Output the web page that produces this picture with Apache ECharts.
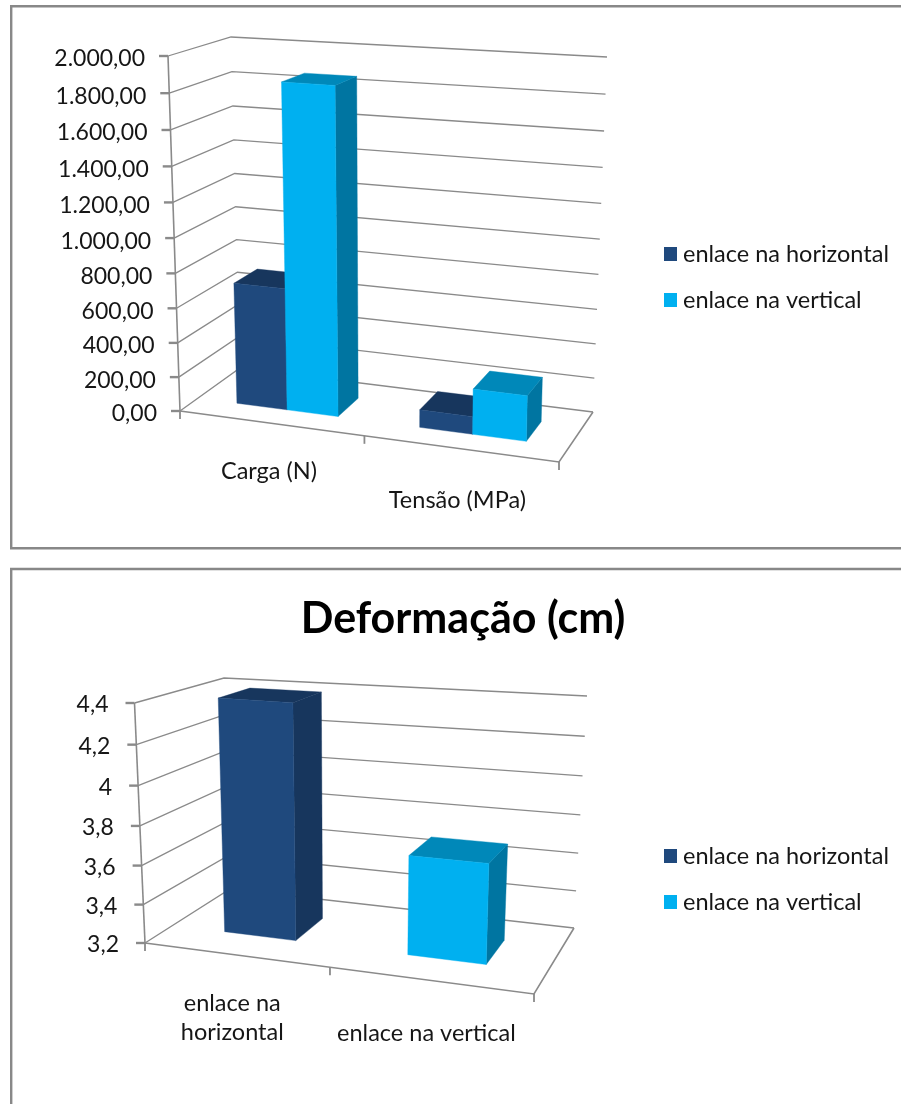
<!DOCTYPE html>
<html>
<head>
<meta charset="utf-8">
<style>html,body{margin:0;padding:0;background:#fff}#chart{width:901px;height:1104px}</style>
<script src="https://cdn.jsdelivr.net/npm/echarts@6/dist/echarts.min.js"></script>
</head>
<body>
<div id="chart"></div>
<script>
// Ensaio de enlace: carga, tensão e deformação
const seriesNames = ['enlace na horizontal', 'enlace na vertical'];

const loadCategories = ['Carga (N)', 'Tensão (MPa)'];
const loadHorizontal = [708, 101];
const loadVertical = [1860, 258];
const loadTicks = [0, 200, 400, 600, 800, 1000, 1200, 1400, 1600, 1800, 2000];
const loadTickLabels = ['0,00', '200,00', '400,00', '600,00', '800,00', '1.000,00', '1.200,00', '1.400,00', '1.600,00', '1.800,00', '2.000,00'];

const strainCategories = ['enlace na\nhorizontal', 'enlace na vertical'];
const strainHorizontal = [4.4, null];
const strainVertical = [null, 3.7];
const strainTicks = [3.2, 3.4, 3.6, 3.8, 4, 4.2, 4.4];
const strainTickLabels = ['3,2', '3,4', '3,6', '3,8', '4', '4,2', '4,4'];

const FONT = 'Lato, "Open Sans", sans-serif';
const TEXT = '#161616';
const LINE = '#8a8a8a';
const PALETTE = [
  { front: '#1f497d', top: '#17365d', side: '#17365d' },
  { front: '#00b0f0', top: '#0088b9', side: '#0075a1' }
];

// Oblique view of the plot box: screen position of its eight corners,
// plus the foreshortening along the category and value directions.
const loadView = {
  corners: {
    flb: [180, 411], frb: [559, 462], blb: [240, 368], brb: [593, 412],
    flt: [168, 56], frt: [567, 81], blt: [231, 37], brt: [607, 57]
  },
  uBias: 1.055, wBias: 1.053, depth: [0.3, 0.7], labelDx: -23, labelDy: 3,
  catDy: [48, 52], catDx: [-2, -3], slot: 0.14, offsets: [-0.5, 0.5]
};
const strainView = {
  corners: {
    flb: [145, 943], frb: [534, 994], blb: [230, 889], brb: [574, 928],
    flt: [134.5, 703], frt: [542, 730], blt: [224, 678], brt: [587, 696]
  },
  uBias: 1.103, wBias: 1.05, depth: [0.33, 0.71], labelDx: -26, labelDy: 2,
  catDy: [63, 53], catDx: [-3, -3], slot: 0.2, offsets: [0, 0]
};

const bias = (t, r) => t / (t + r * (1 - t));
const lerp = (a, b, t) => [a[0] + (b[0] - a[0]) * t, a[1] + (b[1] - a[1]) * t];

function project(view, u, v, w) {
  const c = view.corners;
  const tu = bias(u, view.uBias);
  const tw = bias(w, view.wBias);
  const bottom = lerp(lerp(c.flb, c.frb, tu), lerp(c.blb, c.brb, tu), v);
  const top = lerp(lerp(c.flt, c.frt, tu), lerp(c.blt, c.brt, tu), v);
  return lerp(bottom, top, tw);
}

// Normalised plot position of a data pair, taken from the cartesian scales.
function unit(params, api, category, value) {
  const rect = params.coordSys;
  const p = api.coord([category, value]);
  return [(p[0] - rect.x) / rect.width, (rect.y + rect.height - p[1]) / rect.height];
}

const lineStyle = { stroke: LINE, lineWidth: 1.3, fill: null };

function wallsRenderer(view, tickLabels) {
  return function (params, api) {
    const value = api.value(0);
    const w = unit(params, api, 0, value)[1];
    const fl = project(view, 0, 0, w);
    const bl = project(view, 0, 1, w);
    const br = project(view, 1, 1, w);
    const children = [
      { type: 'polyline', shape: { points: [fl, bl, br] }, style: lineStyle },
      { type: 'line', shape: { x1: fl[0] - 9, y1: fl[1], x2: fl[0], y2: fl[1] }, style: { stroke: LINE, lineWidth: 2.4 } },
      {
        type: 'text',
        style: {
          text: tickLabels[params.dataIndex],
          x: fl[0] + view.labelDx, y: fl[1] + view.labelDy,
          textAlign: 'right', textVerticalAlign: 'middle',
          font: '23px ' + FONT, fill: TEXT
        }
      }
    ];
    return { type: 'group', children };
  };
}

function frameRenderer(view) {
  return function (params, api) {
    const top = project(view, 0, 0, 1);
    const base = project(view, 0, 0, 0);
    const fr = project(view, 1, 0, 0);
    const br = project(view, 1, 1, 0);
    const children = [
      { type: 'line', shape: { x1: top[0], y1: top[1], x2: base[0], y2: base[1] }, style: { stroke: LINE, lineWidth: 1.6 } },
      { type: 'polyline', shape: { points: [base, fr, br] }, style: { stroke: LINE, lineWidth: 1.6, fill: null } }
    ];
    [0, 0.5, 1].forEach(u => {
      const p = project(view, u, 0, 0);
      children.push({ type: 'line', shape: { x1: p[0], y1: p[1], x2: p[0], y2: p[1] + 8 }, style: { stroke: LINE, lineWidth: 1.8 } });
    });
    return { type: 'group', children };
  };
}

function categoryRenderer(view, labels) {
  return function (params, api) {
    const i = params.dataIndex;
    const [u] = unit(params, api, i, 0);
    const p = project(view, u, 0, 0);
    return {
      type: 'text',
      style: {
        text: labels[i], x: p[0] + view.catDx[i], y: p[1] + view.catDy[i],
        textAlign: 'center', textVerticalAlign: 'middle',
        font: '23.5px ' + FONT, fill: TEXT, lineHeight: 29
      }
    };
  };
}

function barRenderer(view, seriesIndex) {
  const colors = PALETTE[seriesIndex];
  return function (params, api) {
    if (api.value(1) == null || isNaN(api.value(1))) return;
    const cat = api.value(0);
    const [uc, w] = unit(params, api, cat, api.value(1));
    const mid = uc + view.offsets[seriesIndex] * view.slot;
    const u0 = mid - view.slot / 2;
    const u1 = mid + view.slot / 2;
    const [vf, vb] = view.depth;
    const P = (u, v, z) => project(view, u, v, z);
    const face = (points, fill) => ({
      type: 'polygon', shape: { points },
      style: { fill, stroke: fill, lineWidth: 0.4 }
    });
    return {
      type: 'group',
      children: [
        face([P(u1, vf, 0), P(u1, vb, 0), P(u1, vb, w), P(u1, vf, w)], colors.side),
        face([P(u0, vf, w), P(u1, vf, w), P(u1, vb, w), P(u0, vb, w)], colors.top),
        face([P(u0, vf, 0), P(u1, vf, 0), P(u1, vf, w), P(u0, vf, w)], colors.front)
      ]
    };
  };
}

function panel(view, index, categories, ticks, tickLabels, horizontal, vertical) {
  const axisSeries = (renderItem, data, z) => ({
    type: 'custom', coordinateSystem: 'cartesian2d', xAxisIndex: index, yAxisIndex: index,
    data, renderItem, silent: true, z, clip: false, encode: { x: 1, y: 0 }
  });
  const barData = values => values.map((v, i) => [i, v]);
  const barSeries = (name, values, s) => ({
    type: 'custom', name, coordinateSystem: 'cartesian2d', xAxisIndex: index, yAxisIndex: index,
    data: barData(values), renderItem: barRenderer(view, s), z: 3 + s, clip: false,
    itemStyle: { color: PALETTE[s].front }, encode: { x: 0, y: 1 }
  });
  return [
    axisSeries(wallsRenderer(view, tickLabels), ticks.map(t => [t, 0]), 1),
    axisSeries(frameRenderer(view), [[ticks[0], 0]], 2),
    barSeries(seriesNames[0], horizontal, 0),
    barSeries(seriesNames[1], vertical, 1),
    {
      type: 'custom', coordinateSystem: 'cartesian2d', xAxisIndex: index, yAxisIndex: index,
      data: categories.map((c, i) => [i, ticks[0]]), renderItem: categoryRenderer(view, categories),
      silent: true, z: 5, clip: false, encode: { x: 0, y: 1 }
    }
  ];
}

const legendBase = {
  orient: 'vertical', left: 664, padding: 0, icon: 'rect', itemWidth: 13, itemHeight: 14, itemGap: 22,
  data: seriesNames, selectedMode: false,
  textStyle: { fontFamily: FONT, fontSize: 23.5, color: TEXT, padding: [0, 0, 0, 1] }
};

const frameStyle = { fill: 'none', stroke: '#888888', lineWidth: 2.4 };

const chart = echarts.init(document.getElementById('chart'));
chart.setOption({
  animation: false,
  backgroundColor: '#ffffff',
  title: {
    text: 'Deformação (cm)', left: 458, top: 593, textAlign: 'center',
    textStyle: { fontFamily: FONT, fontSize: 43, fontWeight: 'bold', color: '#000000' }
  },
  legend: [
    Object.assign({}, legendBase, { top: 242 }),
    Object.assign({}, legendBase, { top: 844 })
  ],
  grid: [
    { left: 180, top: 56, width: 379, height: 355 },
    { left: 145, top: 703, width: 389, height: 240 }
  ],
  xAxis: [
    { type: 'category', gridIndex: 0, data: loadCategories, show: false },
    { type: 'category', gridIndex: 1, data: strainCategories, show: false }
  ],
  yAxis: [
    { type: 'value', gridIndex: 0, min: 0, max: 2000, interval: 200, show: false },
    { type: 'value', gridIndex: 1, min: 3.2, max: 4.4, show: false }
  ],
  graphic: [
    { type: 'rect', shape: { x: 11.2, y: 6.2, width: 1000, height: 542 }, style: frameStyle, silent: true },
    { type: 'rect', shape: { x: 11.2, y: 569, width: 1000, height: 800 }, style: frameStyle, silent: true }
  ],
  series: [
    ...panel(loadView, 0, loadCategories, loadTicks, loadTickLabels, loadHorizontal, loadVertical),
    ...panel(strainView, 1, strainCategories, strainTicks, strainTickLabels, strainHorizontal, strainVertical)
  ]
});
</script>
</body>
</html>
